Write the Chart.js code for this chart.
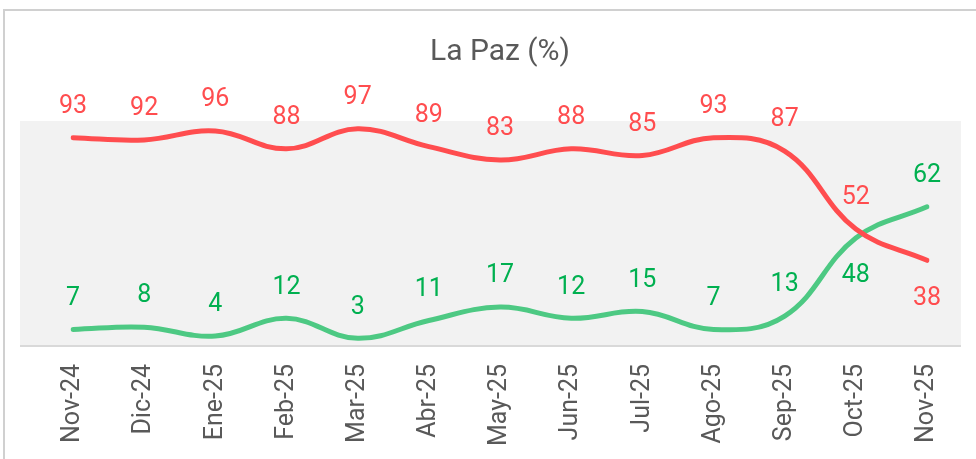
<!DOCTYPE html>
<html>
<head>
<meta charset="utf-8">
<script src="https://cdn.jsdelivr.net/npm/chart.js@4.4.1/dist/chart.umd.min.js"></script>
<style>
  html, body { margin: 0; padding: 0; background: #fff; }
  #wrap { width: 976px; height: 459px; position: relative; }
</style>
</head>
<body>
<div id="wrap"><canvas id="lapazChart" width="976" height="459"></canvas></div>
<script>
const months = ['Nov-24', 'Dic-24', 'Ene-25', 'Feb-25', 'Mar-25', 'Abr-25', 'May-25',
  'Jun-25', 'Jul-25', 'Ago-25', 'Sep-25', 'Oct-25', 'Nov-25'];
const redValues = [93, 92, 96, 88, 97, 89, 83, 88, 85, 93, 87, 52, 38];
const greenValues = [7, 8, 4, 12, 3, 11, 17, 12, 15, 7, 13, 48, 62];

const RED = '#ff4d4f';
const GREEN_LINE = '#4dc983';
const GREEN_TEXT = '#00b050';
const GREY_TEXT = '#595959';

// grey plot band, bottom rule and outer frame
const backdrop = {
  id: 'backdrop',
  beforeDraw(chart) {
    const { ctx, chartArea } = chart;
    ctx.save();
    ctx.strokeStyle = '#d0d0d0';
    ctx.lineWidth = 2;
    ctx.strokeRect(4, 10, 1000, 500);
    ctx.fillStyle = '#f2f2f2';
    ctx.fillRect(chartArea.left - 53, chartArea.top, chartArea.right - chartArea.left + 87, chartArea.bottom - chartArea.top);
    ctx.strokeStyle = '#d9d9d9';
    ctx.beginPath();
    ctx.moveTo(chartArea.left - 53, chartArea.bottom + 1);
    ctx.lineTo(chartArea.right + 34, chartArea.bottom + 1);
    ctx.stroke();
    ctx.restore();
  }
};

// value labels over/under each point
const valueLabels = {
  id: 'valueLabels',
  afterDatasetsDraw(chart) {
    const { ctx } = chart;
    const all = chart.data.datasets.map(d => d.data);
    ctx.save();
    ctx.font = '25px Roboto';
    ctx.textAlign = 'center';
    ctx.textBaseline = 'middle';
    chart.data.datasets.forEach((ds, di) => {
      const other = all[1 - di];
      chart.getDatasetMeta(di).data.forEach((pt, i) => {
        const v = ds.data[i];
        const below = v < other[i] && other[i] - v < 30;
        ctx.fillStyle = ds.labelColor;
        ctx.fillText(String(v), pt.x, below ? pt.y + 38 : pt.y - 31);
      });
    });
    ctx.restore();
  }
};

const ctx = document.getElementById('lapazChart').getContext('2d');
new Chart(ctx, {
  type: 'line',
  data: {
    labels: months,
    datasets: [
      {
        label: 'Rojo',
        data: redValues,
        borderColor: RED,
        labelColor: RED,
        borderWidth: 5,
        tension: 0.4,
        pointRadius: 0,
        borderCapStyle: 'round',
        fill: false,
      },
      {
        label: 'Verde',
        data: greenValues,
        borderColor: GREEN_LINE,
        labelColor: GREEN_TEXT,
        borderWidth: 5,
        tension: 0.4,
        pointRadius: 0,
        borderCapStyle: 'round',
        fill: false,
      },
    ],
  },
  options: {
    responsive: false,
    animation: false,
    layout: { padding: { left: 73, right: 49, top: 0, bottom: 0 } },
    plugins: {
      legend: { display: false },
      tooltip: { enabled: false },
      title: {
        display: true,
        text: 'La Paz (%)',
        color: GREY_TEXT,
        font: { family: 'Roboto', size: 30, weight: 'normal', lineHeight: 1.2 },
        padding: { top: 34, bottom: 51 },
      },
    },
    scales: {
      x: {
        offset: false,
        grid: { display: false, drawTicks: false },
        border: { display: false },
        ticks: {
          color: GREY_TEXT,
          font: { family: 'Roboto', size: 25 },
          minRotation: 90,
          maxRotation: 90,
          padding: 19,
        },
        afterFit(scale) { scale.height = 114; },
      },
      y: {
        display: false,
        min: 0,
        max: 100.5,
      },
    },
  },
  plugins: [backdrop, valueLabels],
});
</script>
</body>
</html>
